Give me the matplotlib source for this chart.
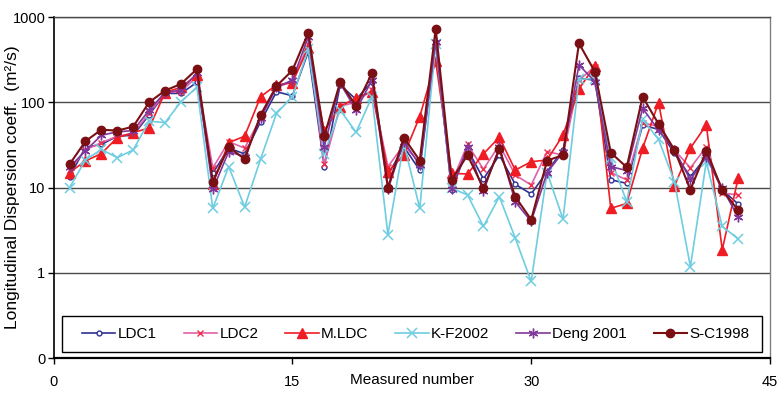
import matplotlib
matplotlib.use("Agg")
import matplotlib.pyplot as plt
from matplotlib.patches import Rectangle
from matplotlib.ticker import FixedLocator, FixedFormatter, NullLocator

plt.rcParams['font.family'] = ['Liberation Sans', 'DejaVu Sans']

# measured number 1..43
measured = list(range(1, 44))

ldc1 = [13.4, 29.6, 32, 40, 41, 71, 127, 127, 171, 14.7,
        29, 24.8, 59, 133, 119, 392, 17.6, 160, 108, 174,
        14, 30, 16, 490, 9.4, 28, 12.6, 24, 10.9, 8.4,
        15.4, 27.6, 191, 182, 12.3, 11.2, 54, 48, 25.2, 13.4,
        23, 9.4, 6.4]
ldc2 = [16, 27.6, 33.6, 40, 43, 74, 130, 133, 200, 17,
        34.5, 29, 65, 150, 174, 480, 18.8, 90, 100, 140,
        17.6, 31.6, 19.3, 490, 11.4, 32, 16.4, 31.6, 14, 10.7,
        26.4, 24, 182, 262, 15, 12.3, 57.7, 51.8, 27.6, 17,
        30, 8.6, 8.2]
mldc = [15, 20.5, 25, 38.5, 44, 50, 130, 150, 209, 11,
        33.6, 40, 116, 160, 170, 437, 46, 89, 113, 133,
        15.4, 24, 68, 305, 14.7, 14.4, 24.8, 38.9, 16, 20.1,
        21, 41.4, 143, 268, 5.7, 6.5, 29, 99, 10.4, 29,
        54, 1.86, 12.9]
kf2002 = [10, 21, 28, 22.4, 27.6, 60, 57.7, 101.6, 150, 5.7,
          17.6, 5.9, 21.5, 74, 116, 420, 25, 81, 44.5, 116,
          2.8, 33, 5.7, 480, 9.8, 8.2, 3.5, 7.8, 2.55, 0.79,
          15, 4.25, 186, 190, 22, 6.8, 63, 36.8, 11.7, 1.18,
          20, 3.5, 2.5]
deng2001 = [17.3, 27, 41, 45, 46.5, 81, 130, 139, 219, 9.5,
            26.4, 23, 66, 150, 182, 588, 30, 167, 81, 182,
            9.5, 34.5, 18.4, 514, 9.5, 30, 9, 30, 6.8, 4,
            15, 26, 274, 175, 17.6, 15.8, 85, 47, 27.6, 12.3,
            23, 9.8, 4.5]
sc1998 = [18.7, 34.9, 47.7, 46.5, 51.8, 100, 137, 164, 245, 11.7,
          30, 21.5, 71, 155, 237, 655, 40, 172, 90.5, 220,
          10, 38.5, 20.7, 729, 12.3, 24, 9.8, 28, 7.8, 4.2,
          20.7, 24, 492, 228, 25.6, 17.3, 116, 55.7, 27.6, 9.4,
          26.9, 9.4, 5.4]

series_names = ['LDC1', 'LDC2', 'M.LDC', 'K-F2002', 'Deng 2001', 'S-C1998']

y_ticks = [0.1, 1, 10, 100, 1000]
y_tick_labels = ['0', '1', '10', '100', '1000']
x_ticks = [0, 15, 30, 45]

fig = plt.figure(figsize=(7.78, 3.93), dpi=100)
ax = fig.add_axes([0.0689, 0.089, 0.9208, 0.8677])

styles = [
    dict(color='#2E3192', marker='o', markersize=3.5, markerfacecolor='white',
         markeredgecolor='#2E3192', markeredgewidth=1.0, lw=1.2),
    dict(color='#E060A8', marker='x', markersize=4.5, markeredgecolor='#F0304A',
         markeredgewidth=1.0, lw=1.2),
    dict(color='#F01C24', marker='^', markersize=7, lw=1.2),
    dict(color='#6ECDE0', marker='x', markersize=6.5, markeredgewidth=1.1, lw=1.2),
    dict(color='#80379A', marker=(6, 2, 0), markersize=7, markeredgewidth=1.0, lw=1.2),
    dict(color='#7A1014', marker='o', markersize=6, lw=1.5),
]
all_series = [ldc1, ldc2, mldc, kf2002, deng2001, sc1998]

for vals, name, st in zip(all_series, series_names, styles):
    ax.plot(measured, vals, label=name, **st)

ax.set_yscale('log')
ax.set_ylim(0.1, 1000)
ax.set_xlim(0, 45)
ax.yaxis.set_major_locator(FixedLocator(y_ticks))
ax.yaxis.set_major_formatter(FixedFormatter(y_tick_labels))
ax.yaxis.set_minor_locator(NullLocator())
ax.set_xticks(x_ticks)
ax.set_xticklabels([str(t) for t in x_ticks])

for yv in [1, 10, 100, 1000]:
    ax.axhline(yv, color='#4a4a4a', lw=1.0, zorder=0.5)

ax.tick_params(axis='both', labelsize=10.5, length=4, width=1.0, color='black')
ax.tick_params(axis='x', pad=8)
ax.tick_params(axis='y', pad=2)

ax.spines['left'].set_color('black')
ax.spines['left'].set_linewidth(1.2)
ax.spines['bottom'].set_color('black')
ax.spines['bottom'].set_linewidth(1.6)
ax.spines['top'].set_color('#4a4a4a')
ax.spines['top'].set_linewidth(1.0)
ax.spines['right'].set_color('#808080')
ax.spines['right'].set_linewidth(1.0)

ax.set_ylabel('Longitudinal Dispersion coeff.  (m²/s)', fontsize=12.5)
ax.yaxis.set_label_coords(-0.047, 0.5)
ax.set_xlabel('Measured number', fontsize=11)
ax.xaxis.set_label_coords(0.5, -0.045)

# legend box drawn separately so the entries can sit with wide side margins
box = Rectangle((0.0117, 0.0176), 0.977, 0.105, transform=ax.transAxes,
                facecolor='white', edgecolor='black', lw=1.0, zorder=5)
ax.add_patch(box)
leg = ax.legend(loc='center', bbox_to_anchor=(0.5055, 0.0703), ncol=6,
                fontsize=11, frameon=False, borderaxespad=0, borderpad=0,
                handlelength=2.2, handletextpad=0.15, columnspacing=1.75)
leg.set_zorder(6)

fig.savefig('out.png', dpi=100)
